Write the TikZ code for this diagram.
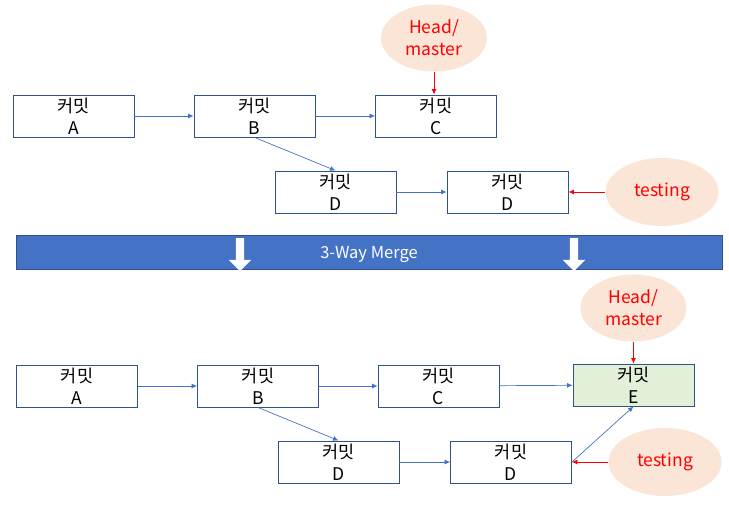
\documentclass[tikz,border=0pt]{standalone}
\usepackage{fontspec}
\setmainfont{Noto Sans CJK KR}
\usetikzlibrary{arrows.meta,shapes.geometric,shapes.arrows}
\definecolor{boxline}{HTML}{2F528F}
\definecolor{linkblue}{HTML}{4472C4}
\definecolor{tagfill}{HTML}{FBE5D6}
\definecolor{mergefill}{HTML}{E2F0D9}
\begin{document}
\begin{tikzpicture}[x=1pt, y=-1pt,
   font=\fontsize{17.5}{22}\selectfont,
 commit/.style = {rectangle, draw=boxline, line width=0.9pt,% commit boxes
                  minimum width=121pt, minimum height=42pt,
                  inner sep=0pt, align=center},
    tag/.style = {ellipse, fill=tagfill, text=red, inner sep=0pt,
                  minimum width=106pt, minimum height=67pt, align=center},
   link/.style = {draw=linkblue, line width=0.7pt, -{Latex[length=5.5pt,width=5pt]}},
  point/.style = {draw=red, line width=0.8pt, -{Latex[length=5.5pt,width=5pt]}},
   down/.style = {single arrow, rotate=-90, fill=white, inner sep=4pt,
                  minimum height=33pt, single arrow head extend=7pt},
                        ]
\useasboundingbox (0,0) rectangle (729,510);
% before the merge
\node[commit] (A1) at (73.5,116) {커밋\\A};
\node[commit] (B1) at (254.5,116) {커밋\\B};
\node[commit] (C1) at (436,116) {커밋\\C};
\node[commit] (D1) at (335.5,192) {커밋\\D};
\node[commit] (T1) at (507.5,192) {커밋\\D};
\node[tag] (head1) at (434,38) {Head/\\master};
\node[tag, minimum width=113pt, minimum height=68pt] (test1) at (662,192) {testing};
\draw[link] (A1) -- (B1);
\draw[link] (B1) -- (C1);
\draw[link] (B1.south) -- (D1.north);
\draw[link] (D1) -- (T1);
\draw[point] (head1.south) -- (head1.south |- C1.north);
\draw[point] (test1) -- (T1);
% banner
\node[rectangle, fill=linkblue, draw=boxline, line width=0.8pt, text=white,
      minimum width=706pt, minimum height=34pt, text depth=0pt,
      font=\fontsize{16.5}{18}\selectfont]
      (merge) at (369,252) {3-Way Merge};
\node[down] (down1) at (240,252.5) {};
\node[down] (down2) at (574,252.5) {};
% after the merge
\node[commit] (A2) at (77,386) {커밋\\A};
\node[commit] (B2) at (258,386) {커밋\\B};
\node[commit] (C2) at (438.5,386) {커밋\\C};
\node[commit, fill=mergefill] (E2) at (633.5,385) {커밋\\E};
\node[commit] (D2) at (338.5,462) {커밋\\D};
\node[commit] (T2) at (511,462) {커밋\\D};
\node[tag] (head2) at (633.5,308) {Head/\\master};
\node[tag, minimum width=113pt, minimum height=68pt] (test2) at (665,462) {testing};
\draw[link] (A2) -- (B2);
\draw[link] (B2) -- (C2);
\draw[link] (B2.south) -- (D2.north);
\draw[link] (D2) -- (T2);
\draw[link] (C2) -- (E2);
\draw[link] (T2.east) -- (E2.south);
\draw[point] (head2.south) -- (E2.north);
\draw[point] (test2) -- (T2);
\end{tikzpicture}
\end{document}
